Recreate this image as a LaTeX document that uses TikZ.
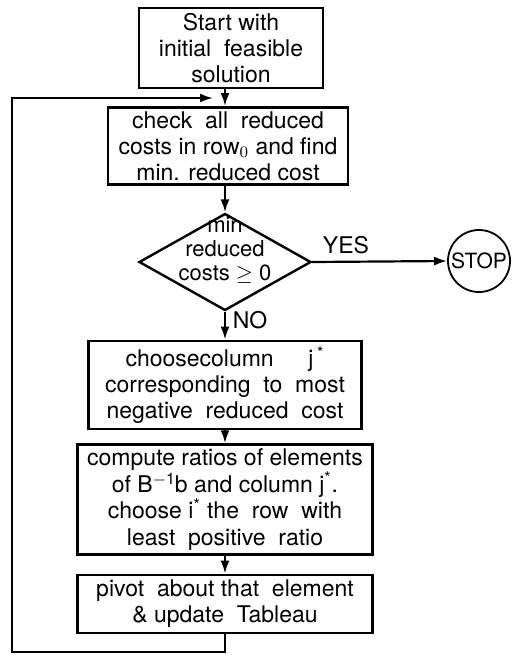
\documentclass[tikz,border=0pt]{standalone}
\usepackage{fontspec}
\setmainfont{TeX Gyre Heros}
\usetikzlibrary{shapes.geometric, arrows.meta, calc}

\tikzset{
  box/.style={draw, line width=1.4pt, align=center, inner sep=2pt},
  decision/.style={draw, diamond, line width=1.2pt, minimum width=86pt, minimum height=48.5pt, inner sep=0pt},
  terminal/.style={draw, circle, line width=0.9pt, minimum size=31pt, inner sep=0pt, font=\fontsize{10.5}{12}\selectfont},
  flow/.style={line width=1.1pt, -{Latex[length=6.5pt,width=4.5pt]}},
}
\newcommand{\sups}[1]{\raisebox{0.6ex}{\footnotesize #1}}

\begin{document}
\begin{tikzpicture}[x=0.5pt, y=-0.5pt, font=\fontsize{11.5}{13}\selectfont]
		\useasboundingbox (0,0) rectangle (511,655);
		
		\node[box, minimum width=92pt, minimum height=40pt] (start) at (231,48)
		{Start with\\initial~ feasible\\solution};
		\node[box, minimum width=120pt, minimum height=37pt] (check) at (228,146)
		{check~ all~ reduced\\costs in row$_{0}$ and find\\min. reduced cost};
		\node[decision] (dec) at (225,262) {};
		\node[align=center, font=\fontsize{11}{12}\selectfont] (dectext) at ($(dec)+(0,-12)$)
		{min\\reduced\\costs $\geq$ 0};
		\node[terminal] (stop) at (479,261) {STOP};
		\node[box, minimum width=136.5pt, minimum height=44pt] (choose) at (225,385)
		{choosecolumn\hspace{1.5em}j\,\textsuperscript{*}\\corresponding~ to~ most\\negative~ reduced~ cost};
		\node[box, minimum width=147.5pt, minimum height=52.5pt, font=\fontsize{11.5}{13.3}\selectfont] (ratio) at (225,499.5)
		{compute ratios of elements\\of B\sups{$-$1}b and column j\textsuperscript{*}.\\choose i\textsuperscript{*} the~ row~ with\\least~ positive~ ratio};
		\node[box, minimum width=147.5pt, minimum height=29pt] (pivot) at (225,604)
		{pivot~ about that~ element\\\& update~ Tableau};
		
		\coordinate (corner) at (12,652);
		\coordinate (join) at (213,98);
		
		\draw[flow] (start.south -| dec) -- (check.north -| dec);
		\draw[flow] (check.south -| dec) -- (dec.north);
		\draw[flow] (dec.east) -- node[above, pos=0.25] {YES} (stop.west);
		\draw[flow] (dec.south) -- node[right, pos=0.3] {NO} (choose.north);
		\draw[flow] (choose.south -| dec) -- (ratio.north -| dec);
		\draw[flow] (ratio.south -| dec) -- (pivot.north -| dec);
		
		% back to the reduced costs
		\draw[flow] (pivot.south -| dec) |- (corner) |- (join);
\end{tikzpicture}
\end{document}
